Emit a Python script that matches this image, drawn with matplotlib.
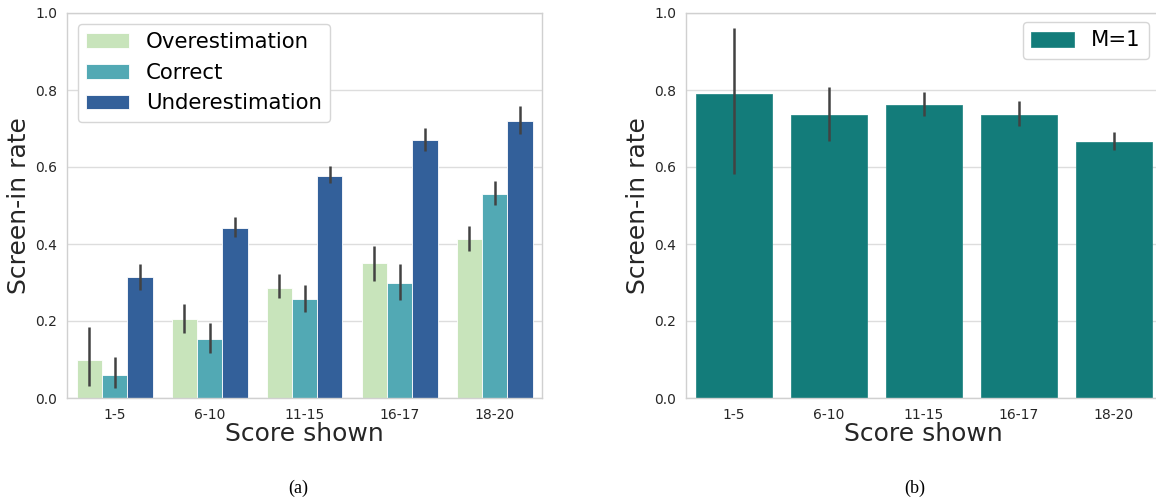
import numpy as np
import matplotlib
matplotlib.use('Agg')
import matplotlib.pyplot as plt

# Data
categories = ['1-5', '6-10', '11-15', '16-17', '18-20']
series = ['Overestimation', 'Correct', 'Underestimation']

over = [0.098, 0.206, 0.287, 0.350, 0.414]
over_lo = [0.030, 0.169, 0.260, 0.304, 0.381]
over_hi = [0.184, 0.245, 0.321, 0.394, 0.448]

correct = [0.061, 0.154, 0.258, 0.298, 0.531]
correct_lo = [0.026, 0.117, 0.223, 0.254, 0.501]
correct_hi = [0.106, 0.195, 0.294, 0.347, 0.563]

under = [0.313, 0.442, 0.577, 0.670, 0.720]
under_lo = [0.281, 0.418, 0.558, 0.642, 0.687]
under_hi = [0.349, 0.470, 0.602, 0.702, 0.758]

m1 = [0.790, 0.736, 0.761, 0.736, 0.665]
m1_lo = [0.582, 0.667, 0.732, 0.706, 0.643]
m1_hi = [0.961, 0.809, 0.795, 0.771, 0.692]

colors = ['#c8e4bb', '#52a9b4', '#33609a']
m1_color = '#137c7a'
err_color = '#424242'

plt.rcParams['font.family'] = 'DejaVu Sans'

fig = plt.figure(figsize=(11.56, 5.01), dpi=100)
ax1 = fig.add_axes([67 / 1156, 103 / 501, 475 / 1156, 385 / 501])
ax2 = fig.add_axes([686 / 1156, 103 / 501, 475 / 1156, 385 / 501])


def style_axes(ax):
    ax.set_xlim(-0.5, len(categories) - 0.5)
    ax.set_ylim(0, 1.0)
    ax.set_yticks(np.arange(0, 1.01, 0.2))
    ax.set_yticklabels([f'{v:.1f}' for v in np.arange(0, 1.01, 0.2)])
    ax.set_xticks(np.arange(len(categories)))
    ax.set_xticklabels(categories)
    ax.tick_params(length=0, labelsize=10, pad=7, colors='#262626')
    ax.grid(axis='y', color='#dddddd', linewidth=1.0)
    ax.set_axisbelow(True)
    for s in ax.spines.values():
        s.set_color('#d0d0d0')
        s.set_linewidth(1.0)
    ax.set_xlabel('Score shown', fontsize=18, color='#262626', labelpad=0.5)
    ax.set_ylabel('Screen-in rate', fontsize=18, color='#262626', labelpad=3)


x = np.arange(len(categories))
w = 0.8 / 3
vals = [over, correct, under]
los = [over_lo, correct_lo, under_lo]
his = [over_hi, correct_hi, under_hi]
for i, name in enumerate(series):
    pos = x + (i - 1) * w
    ax1.bar(pos, vals[i], width=w, color=colors[i], edgecolor='white',
            linewidth=0.6, label=name, zorder=2)
    ax1.vlines(pos, los[i], his[i], color=err_color, linewidth=1.8, zorder=3)
style_axes(ax1)
ax1.legend(loc='upper left', fontsize=15.3, frameon=True, edgecolor='#d6d6d6',
           fancybox=True, framealpha=1.0, borderaxespad=0.5)

ax2.bar(x, m1, width=0.8, color=m1_color, edgecolor='#2a8a88',
        linewidth=0.6, label='M=1', zorder=2)
ax2.vlines(x, m1_lo, m1_hi, color=err_color, linewidth=1.8, zorder=3)
style_axes(ax2)
ax2.legend(loc='upper right', fontsize=15.3, frameon=True, edgecolor='#d6d6d6',
           fancybox=True, framealpha=1.0, bbox_to_anchor=(1149 / 1156, 479 / 501),
           bbox_transform=fig.transFigure, borderaxespad=0)

fig.text(298 / 1156, 13 / 501, '(a)', ha='center', va='center',
         fontsize=13, family='Liberation Serif')
fig.text(915 / 1156, 13 / 501, '(b)', ha='center', va='center',
         fontsize=13, family='Liberation Serif')

fig.savefig('out.png', dpi=100)
